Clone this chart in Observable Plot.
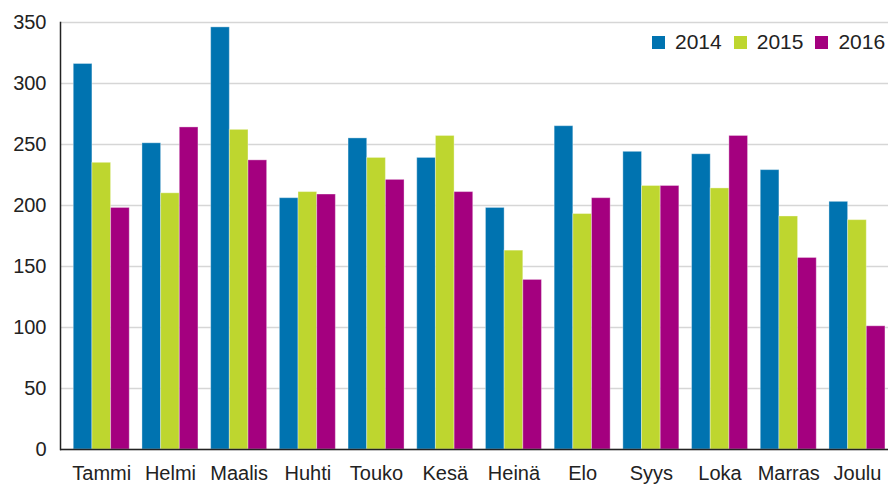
<!DOCTYPE html>
<html>
<head>
<meta charset="utf-8">
<script src="https://cdn.jsdelivr.net/npm/d3@7"></script>
<script src="https://cdn.jsdelivr.net/npm/@observablehq/plot@0.6"></script>
<style>
  html, body { margin: 0; padding: 0; background: #fff; }
  #wrap { position: relative; width: 888px; height: 485px; font-family: "Liberation Sans", Arial, sans-serif; }
  #legend { position: absolute; left: 652px; top: 30px; display: flex; align-items: center; font-size: 21px; color: #222; white-space: nowrap; }
  #legend .item { display: flex; align-items: center; margin-right: 12px; }
  #legend .sw { width: 13px; height: 13px; margin-right: 10px; }
</style>
</head>
<body>
<div id="wrap"><div id="legend"></div></div>
<script>
const months = ["Tammi","Helmi","Maalis","Huhti","Touko","Kesä","Heinä","Elo","Syys","Loka","Marras","Joulu"];
const years = ["2014","2015","2016"];
const colors = ["#0073b0","#bed62f","#a4007f"];
const v2014 = [316, 251, 346, 206, 255, 239, 198, 265, 244, 242, 229, 203];
const v2015 = [235, 210, 262, 211, 239, 257, 163, 193, 216, 214, 191, 188];
const v2016 = [198, 264, 237, 209, 221, 211, 139, 206, 216, 257, 157, 101];
const yTicks = [0, 50, 100, 150, 200, 250, 300, 350];

const series = [v2014, v2015, v2016];
const data = years.flatMap((yr, i) => months.map((m, j) => ({month: m, year: yr, value: series[i][j]})));

const W = 888, H = 485;
const xRange = [66.9, 891.3];
const pIn = 0.185, pOut = 0.0925;
const step = (xRange[1] - xRange[0]) / (months.length - pIn + 2 * pOut);
const bw = step * (1 - pIn);
const third = bw / 3;

const marks = [
  Plot.ruleY(yTicks, {stroke: "#d6d6d6", strokeWidth: 1.5}),
  ...years.map((yr, i) => Plot.barY(data.filter(d => d.year === yr), {
    x: "month", y: "value", fill: colors[i],
    stroke: "#ffffff", strokeOpacity: 0.35, strokeWidth: 1,
    insetLeft: i * third, insetRight: (2 - i) * third
  })),
  Plot.ruleY([0], {stroke: "#222", strokeWidth: 1.5}),
  Plot.frame({anchor: "left", stroke: "#222", strokeWidth: 1.5}),
  Plot.axisY({ticks: yTicks, tickSize: 0, tickPadding: 14, fontSize: 20, label: null}),
  Plot.axisX({tickSize: 0, tickPadding: 16, fontSize: 20, label: null})
];

const chart = Plot.plot({
  width: W, height: H,
  marginLeft: 60, marginRight: 0, marginTop: 22, marginBottom: 36,
  style: {fontFamily: "Liberation Sans, Arial, sans-serif", color: "#222", background: "transparent", overflow: "visible"},
  x: {type: "band", domain: months, range: xRange, paddingInner: pIn, paddingOuter: pOut, round: false},
  y: {domain: [0, 350]},
  marks
});
const wrap = document.getElementById("wrap");
wrap.insertBefore(chart, wrap.firstChild);

const legend = document.getElementById("legend");
years.forEach((yr, i) => {
  const it = document.createElement("div");
  it.className = "item";
  it.innerHTML = `<div class="sw" style="background:${colors[i]}"></div><span>${yr}</span>`;
  legend.appendChild(it);
});
</script>
</body>
</html>
